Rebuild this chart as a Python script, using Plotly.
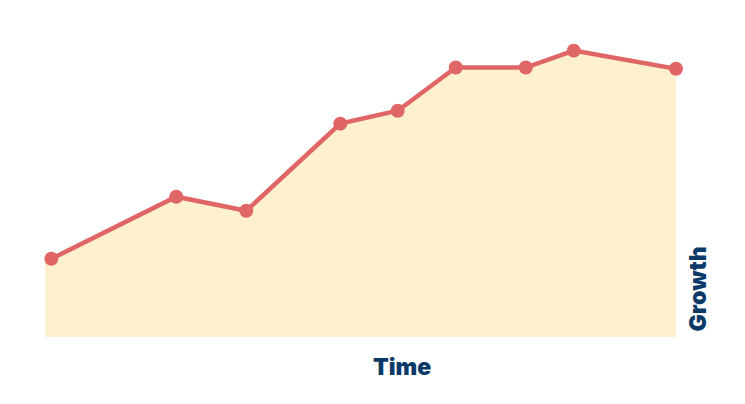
import plotly.graph_objects as go

time = [1.0, 20.8, 31.9, 46.8, 55.9, 65.1, 76.2, 83.8, 100.0]
growth = [27.3, 49.0, 44.1, 74.5, 79.0, 94.1, 94.1, 100.0, 93.7]
x_start = 0.0

fill_x = [x_start] + time
fill_y = [growth[0]] + growth

fig = go.Figure()
fig.add_trace(go.Scatter(x=fill_x, y=fill_y, mode="lines", line=dict(width=0),
                         fill="tozeroy", fillcolor="#FFF1CD", hoverinfo="skip",
                         showlegend=False))
fig.add_trace(go.Scatter(x=time, y=growth, mode="lines+markers",
                         line=dict(color="#E06666", width=4.5),
                         marker=dict(color="#E06666", size=14),
                         cliponaxis=False, showlegend=False))

title_font = dict(family="Inter, Roboto, sans-serif", size=23, color="#0B3A68", weight=900)
fig.update_layout(
    width=745, height=404,
    margin=dict(l=37, r=77, t=14, b=75),
    paper_bgcolor="white", plot_bgcolor="white",
    xaxis=dict(range=[0, 100], showgrid=False, zeroline=False, showticklabels=False,
               showline=False, ticks=""),
    yaxis=dict(range=[0, 110], showgrid=False, zeroline=False, showticklabels=False,
               showline=False, ticks=""),
    annotations=[
        dict(text="Time", xref="paper", yref="paper", x=0.566, y=0,
             xanchor="center", yanchor="top", yshift=-14, showarrow=False, font=title_font),
        dict(text="Growth", xref="paper", yref="paper", x=1, y=0,
             xanchor="left", yanchor="bottom", xshift=5, yshift=3, textangle=-90,
             showarrow=False, font=title_font),
    ],
)
fig.write_html("out.html")
